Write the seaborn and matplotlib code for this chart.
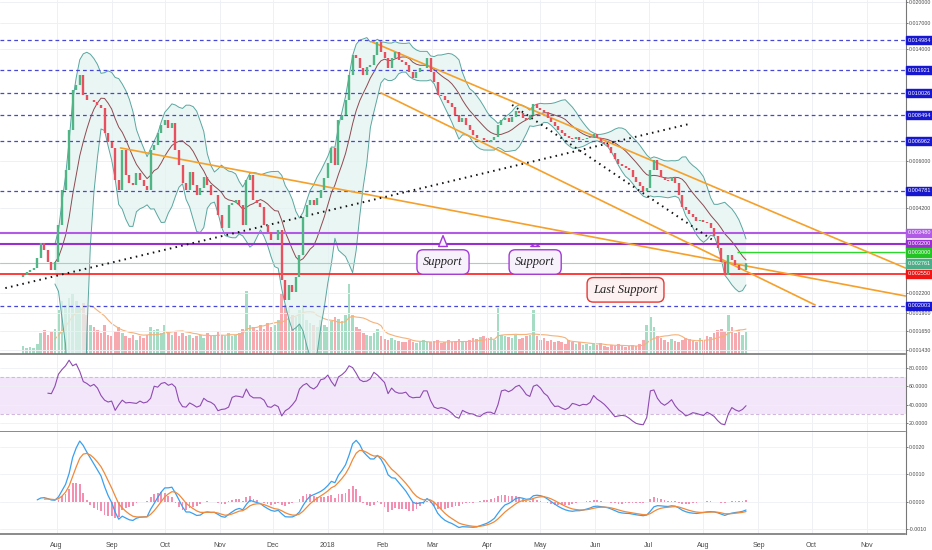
import numpy as np
import pandas as pd
import matplotlib
matplotlib.use("Agg")
import matplotlib.pyplot as plt
import seaborn as sns

# %% data (2-day candles)
start_date = "2017-07-13"
first_open = 0.00250
close = [
    0.00253, 0.00259, 0.00263, 0.00267, 0.00287, 0.00322, 0.00305, 0.00279, 0.00263, 0.00279,
    0.00370, 0.00482, 0.00560, 0.00758, 0.01027, 0.01067, 0.01151, 0.00989, 0.00952, 0.00952,
    0.00938, 0.00917, 0.00896, 0.00741, 0.00692, 0.00662, 0.00520, 0.00482, 0.00652, 0.00540,
    0.00508, 0.00500, 0.00548, 0.00520, 0.00496, 0.00482, 0.00652, 0.00677, 0.00741, 0.00788,
    0.00818, 0.00770, 0.00800, 0.00652, 0.00582, 0.00508, 0.00482, 0.00552, 0.00500, 0.00464,
    0.00489, 0.00532, 0.00500, 0.00464, 0.00464, 0.00399, 0.00362, 0.00362, 0.00430, 0.00436,
    0.00446, 0.00430, 0.00370, 0.00520, 0.00540, 0.00446, 0.00436, 0.00424, 0.00370, 0.00351,
    0.00330, 0.00330, 0.00356, 0.00243, 0.00209, 0.00234, 0.00222, 0.00249, 0.00294, 0.00393,
    0.00430, 0.00446, 0.00430, 0.00453, 0.00482, 0.00528, 0.00591, 0.00662, 0.00582, 0.00818,
    0.00850, 0.00952, 0.01151, 0.01338, 0.01309, 0.01213, 0.01151, 0.01222, 0.01241, 0.01338,
    0.01477, 0.01369, 0.01309, 0.01213, 0.01309, 0.01369, 0.01289, 0.01270, 0.01241, 0.01177,
    0.01125, 0.01177, 0.01213, 0.01213, 0.01309, 0.01177, 0.01091, 0.00989, 0.00982, 0.00952,
    0.00931, 0.00903, 0.00850, 0.00806, 0.00831, 0.00788, 0.00758, 0.00730, 0.00714, 0.00714,
    0.00703, 0.00693, 0.00703, 0.00719, 0.00788, 0.00818, 0.00831, 0.00806, 0.00837, 0.00875,
    0.00862, 0.00831, 0.00818, 0.00850, 0.00924, 0.00896, 0.00882, 0.00869, 0.00831, 0.00806,
    0.00782, 0.00758, 0.00741, 0.00724, 0.00714, 0.00708, 0.00719, 0.00703, 0.00708, 0.00714,
    0.00719, 0.00735, 0.00714, 0.00693, 0.00682, 0.00667, 0.00637, 0.00609, 0.00586, 0.00578,
    0.00569, 0.00560, 0.00532, 0.00512, 0.00496, 0.00478, 0.00489, 0.00560, 0.00604, 0.00560,
    0.00532, 0.00520, 0.00516, 0.00532, 0.00508, 0.00464, 0.00424, 0.00414, 0.00402, 0.00393,
    0.00381, 0.00384, 0.00379, 0.00376, 0.00362, 0.00340, 0.00310, 0.00279, 0.00253, 0.00294,
    0.00283, 0.00273, 0.00263, 0.00263, 0.00276,
]
volume = [
    8, 6, 7, 6, 10, 22, 25, 20, 24, 26,
    45, 55, 50, 58, 62, 55, 48, 52, 40, 30,
    28, 25, 22, 30, 20, 18, 24, 28, 22, 18,
    16, 20, 14, 18, 16, 20, 28, 25, 26, 22,
    30, 22, 20, 24, 18, 22, 18, 20, 16, 18,
    20, 16, 22, 18, 20, 24, 20, 18, 22, 18,
    20, 22, 26, 65, 30, 28, 25, 30, 26, 32,
    28, 30, 35, 62, 50, 48, 40, 38, 45, 50,
    35, 32, 30, 28, 35, 30, 28, 34, 38, 36,
    34, 40, 72, 40, 28, 26, 22, 20, 18, 22,
    26, 18, 15, 14, 16, 14, 13, 12, 12, 14,
    12, 11, 12, 14, 12, 12, 13, 14, 11, 12,
    14, 12, 13, 15, 12, 12, 14, 16, 15, 17,
    18, 16, 17, 14, 47, 20, 18, 17, 16, 20,
    15, 16, 18, 20, 45, 18, 14, 16, 13, 14,
    12, 13, 12, 10, 14, 12, 10, 12, 9, 10,
    8, 10, 9, 11, 8, 7, 9, 8, 10, 8,
    7, 8, 9, 8, 10, 14, 30, 38, 28, 18,
    16, 14, 12, 15, 13, 12, 14, 16, 15, 13,
    12, 16, 14, 18, 17, 22, 25, 26, 24, 40,
    28, 22, 25, 20, 24,
]
# RSI as shown on the chart, from candle 7 on
rsi_first = 7
rsi_values = [
    52.5, 52, 60, 73, 78, 82, 88, 82, 84, 76,
    65, 63, 60, 62, 58, 50, 45, 43, 44, 34,
    40, 45, 42, 42.5, 42, 41.5, 44, 42, 43, 47,
    60, 59, 63, 64, 61, 62.5, 59, 44, 38, 37.5,
    42, 40, 37.5, 39, 47, 44, 42.7, 40, 33.6, 35,
    35.5, 37.5, 48, 49.5, 49, 48, 57, 50, 47.5, 47.5,
    47.5, 45, 38, 37.3, 40, 38, 28, 33.6, 36, 40,
    45, 57, 61, 63, 59, 57, 60, 67, 68, 72,
    65, 60, 70, 72.5, 76, 82, 80, 74, 67, 65,
    65.5, 68, 75, 72, 68, 64, 52, 58, 54, 52.5,
    52.5, 53.6, 49, 47.5, 48, 48, 55, 55, 44.5, 37.5,
    36, 37, 36, 34, 31, 27, 25.5, 34, 32, 30.5,
    30, 28, 27.5, 30.5, 32, 32, 30, 40, 55, 56,
    54, 56, 59.5, 61, 56.5, 51, 49, 60, 61.5, 58,
    52.5, 49.5, 43, 38.2, 38.6, 36.5, 34.9, 36.8, 41.5, 40.5,
    39, 40.5, 40, 42.5, 50, 46, 43.5, 40.5, 36.5, 32,
    27.2, 28, 28.6, 28, 25.6, 22.5, 20, 19, 18.5, 26.4,
    55, 56, 47, 42, 39.5, 42, 45.5, 39, 34.5, 31.8,
    28, 29.5, 31.5, 30.7, 29.5, 28.5, 32, 30, 27.5, 23,
    19.5, 18.5, 30, 37, 34.5, 33, 35, 39,
]

# horizontal levels
blue_levels = [0.014984, 0.011921, 0.010026, 0.008494, 0.006962, 0.004781, 0.002003]
purple_levels = [0.003480, 0.003200]
purple_cols = ["#b05ae6", "#9a2fd0"]
green_level = 0.003000
green_from = "2018-08-20"
last_price = 0.002761
red_level = 0.002550

# drawn trend lines: (start date, start price, end date, end price)
orange_lines = [
    ("2017-09-06", 0.00662, "2018-11-23", 0.002157),
    ("2018-01-26", 0.01477, "2018-11-23", 0.002666),
    ("2018-01-31", 0.01004, "2018-10-03", 0.002015),
]
dotted_lines = [
    ("2017-07-03", 0.00229, "2018-07-24", 0.00794),
    ("2018-04-15", 0.00917, "2018-08-06", 0.00330),
]

# callouts: text, date, text price, pointer price, edge colour, face colour
callouts = [
    ("Support", "2018-03-07", 0.00279, 0.00348, "#a23bd6", "#f6f1fb"),
    ("Support", "2018-04-28", 0.00279, 0.00320, "#a23bd6", "#f6f1fb"),
    ("Last Support", "2018-06-18", 0.00226, 0.00255, "#e53935", "#fdf1f1"),
]

price_ticks = [0.020, 0.017, 0.014, 0.006, 0.0042, 0.0022, 0.0019, 0.00165, 0.00143]
rsi_ticks = [20, 40, 60, 80]
macd_ticks = [-0.001, 0.0, 0.001, 0.002]

# %% indicators
dates = pd.date_range(start_date, periods=len(close), freq="2D")
s = pd.Series(close, index=dates)
opens = pd.Series([first_open] + close[:-1], index=dates)
up = s >= opens

mid = s.rolling(10).mean()
sd = s.rolling(10).std(ddof=0)
bb_up = mid + 2 * sd
bb_lo = (mid - 2 * sd).clip(lower=1e-5)

vol = pd.Series(volume, index=dates, dtype=float)
vol_ma = vol.rolling(10).mean()

rsi_dates = dates[rsi_first:rsi_first + len(rsi_values)]

macd = s.ewm(span=6, adjust=False).mean() - s.ewm(span=13, adjust=False).mean()
signal = macd.ewm(span=5, adjust=False).mean()
hist = macd - signal
macd[:4] = np.nan
signal[:6] = np.nan
hist[:8] = np.nan

# %% figure
sns.set_theme(style="white")
plt.rcParams["font.family"] = ["Liberation Sans", "DejaVu Sans"]

fig = plt.figure(figsize=(9.32, 5.5), dpi=100)
W = 905.5 / 932
ax = fig.add_axes([0, 196 / 550, W, 354 / 550])
axr = fig.add_axes([0, 118 / 550, W, 78 / 550])
axm = fig.add_axes([0, 16 / 550, W, 102 / 550])

xmin, xmax = pd.Timestamp("2017-06-30"), pd.Timestamp("2018-11-23")
months = pd.date_range("2017-08-01", "2018-11-01", freq="MS")
month_lbl = ["2018" if m.month == 1 else m.strftime("%b") for m in months]
grid_c = "#eef0f4"
tick_c = "#4a4a4a"

for a in (ax, axr, axm):
    a.set_xlim(xmin, xmax)
    for m in months:
        a.axvline(m, color=grid_c, lw=0.7, zorder=0)
    for side in ("left", "top"):
        a.spines[side].set_visible(False)
    a.spines["right"].set_color("#777777")
    a.spines["right"].set_linewidth(0.8)
    a.spines["bottom"].set_color("#777777")
    a.spines["bottom"].set_linewidth(1.2)

# main panel
ax.set_yscale("log")
ax.set_ylim(0.00139, 0.0203)
for t in price_ticks:
    ax.axhline(t, color=grid_c, lw=0.7, zorder=0)

# volume on twin axis
axv = ax.twinx()
axv.set_ylim(0, 364)
axv.set_yticks([])
for side in ("left", "top", "right", "bottom"):
    axv.spines[side].set_visible(False)
ax.set_zorder(axv.get_zorder() + 1)
ax.patch.set_visible(False)
vcols = np.where(up, "#a6dcc3", "#f6aab0")
axv.bar(dates, vol.values, width=1.5, color=vcols, linewidth=0)
sns.lineplot(x=dates, y=vol_ma.values, ax=axv, color="#f5b27a", lw=0.8,
             estimator=None, errorbar=None)
axv.set_xlim(xmin, xmax)

# bollinger bands
ax.fill_between(dates, bb_lo.values, bb_up.values, color="#e3f3f0", alpha=0.75, lw=0, zorder=1)
sns.lineplot(x=dates, y=bb_up.values, ax=ax, color="#5aa6a0", lw=0.7, estimator=None, errorbar=None)
sns.lineplot(x=dates, y=bb_lo.values, ax=ax, color="#5aa6a0", lw=0.7, estimator=None, errorbar=None)
sns.lineplot(x=dates, y=mid.values, ax=ax, color="#8d4a52", lw=0.7, estimator=None, errorbar=None)

# level lines
for lv in blue_levels:
    ax.axhline(lv, color="#4646d8", lw=0.9, ls=(0, (3, 2.5)), zorder=2)
for lv, c in zip(purple_levels, purple_cols):
    ax.axhline(lv, color=c, lw=1.5, zorder=2)
ax.hlines(green_level, pd.Timestamp(green_from), xmax, color="#2bd82b", lw=1.0, zorder=2)
ax.axhline(last_price, color="#9ad6c6", lw=0.8, zorder=2)
ax.axhline(red_level, color="#ff1a1a", lw=1.2, zorder=2)

# trend lines
for d0, p0, d1, p1 in orange_lines:
    ax.plot([pd.Timestamp(d0), pd.Timestamp(d1)], [p0, p1], color="#f5a02a", lw=1.2, zorder=3)
for d0, p0, d1, p1 in dotted_lines:
    ax.plot([pd.Timestamp(d0), pd.Timestamp(d1)], [p0, p1], color="#111111", lw=1.4,
            ls=(0, (0.8, 2.2)), zorder=3)

# candles
lows = np.minimum(s.values, opens.values)
highs = np.maximum(s.values, opens.values)
ccols = np.where(up, "#4fb584", "#e8505f")
ax.vlines(dates, lows, highs, colors=ccols, lw=1.7, zorder=4)

# right-hand labels
def level_tag(a, v, c):
    a.annotate(f"{v:.6f}", xy=(1.0, v), xycoords=("axes fraction", "data"),
               xytext=(1.5, 0), textcoords="offset points", ha="left", va="center",
               fontsize=4.0, color="white", annotation_clip=False, zorder=10,
               bbox=dict(boxstyle="square,pad=0.3", fc=c, ec=c))

for lv in blue_levels:
    level_tag(ax, lv, "#1717cf")
for lv, c in zip(purple_levels, purple_cols):
    level_tag(ax, lv, c)
level_tag(ax, green_level, "#22c322")
level_tag(ax, last_price, "#4cae88")
level_tag(ax, red_level, "#f01414")

# callouts
for txt, d, ptxt, pptr, ec, fc in callouts:
    ax.annotate(txt, xy=(pd.Timestamp(d), pptr), xytext=(pd.Timestamp(d), ptxt),
                ha="center", va="center", fontsize=9, style="italic",
                family=["Liberation Serif", "DejaVu Serif"], color="#222222", zorder=12,
                bbox=dict(boxstyle="round,pad=0.5,rounding_size=0.5", fc=fc, ec=ec, lw=1.0),
                arrowprops=dict(arrowstyle="wedge,tail_width=0.7,shrink_factor=0.5",
                                fc=fc, ec=ec, lw=1.0))

# RSI panel
axr.set_ylim(10.7, 94.7)
axr.axhspan(30, 70, color="#f3e6fb", lw=0, zorder=0)
for lv in (30, 70):
    axr.axhline(lv, color="#d2b8df", lw=0.8, ls=(0, (3, 2)), zorder=1)
for t in rsi_ticks:
    axr.axhline(t, color=grid_c, lw=0.6, zorder=0)
sns.lineplot(x=rsi_dates, y=rsi_values, ax=axr, color="#8e4bb0", lw=0.8,
             estimator=None, errorbar=None)

# MACD panel
axm.set_ylim(-0.00119, 0.00256)
for t in macd_ticks:
    axm.axhline(t, color=grid_c, lw=0.6, zorder=0)
axm.bar(dates, hist.values, width=1.0, color="#f48fb1", linewidth=0, zorder=1)
sns.lineplot(x=dates, y=macd.values, ax=axm, color="#3aa0ef", lw=0.9, estimator=None, errorbar=None)
sns.lineplot(x=dates, y=signal.values, ax=axm, color="#f08a3a", lw=0.9, estimator=None, errorbar=None)

# ticks last, so nothing resets them
for a, ticks, fmt in ((ax, price_ticks, "{:.6f}"), (axr, rsi_ticks, "{:.4f}"),
                      (axm, macd_ticks, "{:.4f}")):
    a.set_xlabel("")
    a.set_ylabel("")
    a.set_xlim(xmin, xmax)
    a.set_xticks(months)
    a.set_yticks(ticks)
    a.set_yticklabels([fmt.format(t) for t in ticks])
    a.yaxis.set_minor_locator(plt.NullLocator())
    a.yaxis.tick_right()
    a.tick_params(axis="y", which="both", left=False, labelleft=False, right=True,
                  labelright=True, length=1.5, width=0.5, colors=tick_c, labelsize=3.8, pad=0.8)
    a.tick_params(axis="x", length=2, width=0.5, colors=tick_c, labelbottom=False)
axm.set_xticklabels(month_lbl)
axm.tick_params(axis="x", labelbottom=True, labelsize=5)
axv.set_ylabel("")

fig.savefig("out.png", dpi=100, facecolor="white")
